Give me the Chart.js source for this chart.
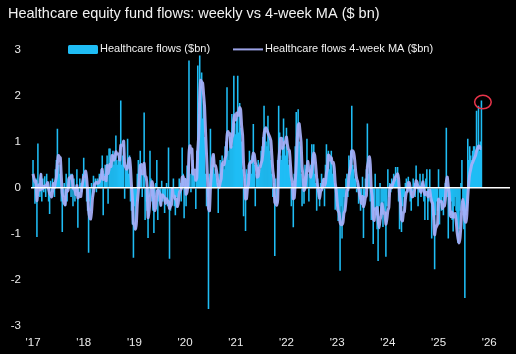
<!DOCTYPE html>
<html>
<head>
<meta charset="utf-8">
<title>Healthcare equity fund flows</title>
<script src="https://cdn.jsdelivr.net/npm/chart.js@4.4.1/dist/chart.umd.min.js"></script>
<style>
    html, body { margin: 0; padding: 0; background: #000; }
</style>
</head>
<body>
<canvas id="myChart" width="516" height="354"></canvas>
<script>
//! DATA (weekly, $bn)
const flows2017 = [0.6, 0.1, -0.35, 0.2, -1.07, 0.96, 0.1, -0.2, 0.3, -0.3, 0.2, -0.1, 0.25, -0.2, 0.3, 0.1, -0.3, -0.57, 0.15, -0.1, 0.2, 0.1, -0.2, 0.4, 0.6, 1.28, 0.5, 0.3, 0.5, -0.3, -0.96, -0.2, 0.1, -0.4, 0.3, -0.3, 0.2, 0.65, 0.3, -0.2, 0.3, -0.4, 0.2, -0.3, -0.1, 0.4, -0.87, -0.2, 0.2, 0.1, -0.1, 0.3];
const flows2018 = [0.65, 0.2, 0.3, -0.3, -0.5, -1.41, -0.3, -0.5, 0.1, -0.2, 0.26, 0.1, 0.2, -0.1, 0.2, 0.1, 0.3, 0.2, 0.4, 0.7, -0.6, 0.3, 0.5, 0.4, 0.7, -0.35, 0.85, 0.85, 0.5, 0.6, 0.8, 0.5, 0.7, 1.13, 0.6, 0.5, 0.7, 0.6, 1.89, 0.5, 0.7, 0.94, -0.24, 0.4, 0.5, 1.06, 0.3, 0.7, -0.3, -0.5, -0.8, -1.52];
const flows2019 = [-0.4, -0.9, -0.3, 0.3, 0.6, 0.2, 0.8, 0.4, -0.2, 0.3, 1.63, -0.7, -0.3, -0.5, -1.09, -0.2, 0.8, 0.2, -0.3, -0.5, -0.98, -0.2, 0.1, 0.6, -0.7, -0.3, -0.1, -0.4, 0.15, -0.3, -0.2, -0.55, -0.3, 0.1, -0.4, 0.87, -1.54, -0.5, -0.3, -0.2, 0.2, -0.4, -0.6, -0.2, -0.43, -0.1, 0.2, 0.1, -0.3, 0.87, 0.3, -0.66];
const flows2020 = [0.2, -0.4, 0.48, 0.1, 2.76, 0.3, -0.1, 0.4, 0.6, 0.3, 0.2, -0.46, 0.8, 2.65, 1.6, 2.87, 2.2, 2.5, 1.5, 1.89, 1.1, 0.3, -0.4, -0.2, -2.63, 0.3, 1.28, 0.4, 0.5, 0.7, 0.3, 0.4, 0.2, 0.1, -0.55, 0.3, 0.6, 0.4, 0.7, 0.5, 0.4, 0.9, 1.0, 2.18, 0.8, 0.6, 1.1, 1.0, 1.6, 0.9, 2.43, 1.4];
const flows2021 = [1.16, 1.5, 2.43, 1.2, 1.84, 1.3, 1.0, 0.4, -0.62, 0.2, -0.94, 0.4, 0.3, 0.5, 0.8, 0.6, 0.3, 0.7, 1.38, 0.5, -0.4, 0.3, 0.5, 0.6, 0.3, 0.4, 0.8, 0.9, 1.1, 1.78, 1.3, 1.0, 0.9, 1.56, 1.1, 0.8, 0.6, 0.3, -0.2, 0.1, -1.48, 0.2, -0.35, 0.6, 1.78, 1.2, 0.7, 0.6, 0.9, 1.5, 0.9, 0.7];
const flows2022 = [1.3, 0.8, 0.5, 0.6, 0.2, -0.4, 0.1, -0.86, 0.3, 0.9, 1.64, 1.2, 1.7, 1.0, 0.9, 0.3, -0.4, 0.2, -0.35, 0.5, 0.4, 1.06, 0.3, -0.3, 0.4, 0.5, 0.94, 0.6, 0.94, 0.3, 0.1, -0.5, 0.2, -0.2, -0.4, 0.1, 0.3, 0.1, 0.2, -0.4, 0.5, 0.94, 0.6, 0.8, 0.4, 0.6, 0.8, 0.3, 0.5, 0.1, -0.48, -0.3];
const flows2023 = [-0.5, -0.72, -0.6, -1.8, -0.4, -1.1, -0.7, -0.2, -0.5, 0.2, 0.3, -0.2, 0.7, 0.6, 0.8, 1.78, 0.5, 0.4, 0.2, 0.3, -0.1, 0.1, -0.35, -0.2, -0.5, -0.3, 0.24, -1.09, -0.2, 0.2, 0.4, 1.39, 0.3, 0.6, -0.3, -0.7, -0.4, -1.22, -0.5, 0.3, -0.6, -0.9, -1.59, -0.4, 0.1, -0.6, -0.5, -0.85, -0.3, -0.5, -1.5, -0.4];
const flows2024 = [0.4, -0.2, 0.1, -0.1, 0.2, 0.1, 0.3, 0.1, 0.45, 0.2, 0.45, -0.3, -0.9, -0.6, -0.96, -0.4, -0.2, -0.5, 0.1, 0.2, -0.1, 0.24, 0.1, -0.3, -0.5, -0.1, 0.2, 0.1, -0.2, 0.48, 0.1, -0.4, -0.1, 0.3, -0.2, 0.1, 0.3, -0.3, -0.7, 0.2, 0.4, -0.7, -0.3, 0.4, -0.2, -1.1, -0.5, -0.7, -1.77, -0.6, -0.3, -0.5];
const flows2025 = [0.4, -0.8, -0.3, -0.5, -0.2, -0.6, -0.3, 0.1, 1.3, -0.2, -1.1, -0.5, -0.6, -0.3, -0.7, -0.95, -0.4, -0.2, -0.5, -0.8, -1.2, -0.9, -0.5, 0.1, 0.6, -0.5, -0.9, -2.39, -0.6, -0.5, 1.06, 0.6, 0.9, 0.7, 0.6, 0.8, 0.9, 0.9, 0.7, 1.67, 0.9, 1.78, 0.8, 1.0, 1.89];

//* 4-week moving average line
const ma2017 = [0.3, 0.2, 0.12, 0.14, -0.28, -0.07, 0.05, -0.05, 0.29, -0.03, 0, 0.03, 0.01, 0.04, 0.06, 0.11, -0.03, -0.12, -0.16, -0.2, -0.08, 0.09, 0, 0.13, 0.23, 0.52, 0.7, 0.67, 0.65, 0.25, -0.12, -0.24, -0.34, -0.37, -0.05, -0.08, -0.05, 0.21, 0.21, 0.24, 0.26, 0, -0.03, -0.05, -0.15, 0.05, -0.22, -0.19, -0.12, -0.19, 0, 0.13];
const ma2018 = [0.24, 0.26, 0.36, 0.21, -0.08, -0.48, -0.63, -0.68, -0.53, -0.23, -0.09, 0.07, 0.09, 0.12, 0.1, 0.1, 0.13, 0.2, 0.25, 0.4, 0.18, 0.2, 0.23, 0.15, 0.48, 0.31, 0.4, 0.51, 0.46, 0.7, 0.69, 0.6, 0.65, 0.78, 0.73, 0.73, 0.73, 0.6, 0.92, 0.92, 0.92, 1.01, 0.48, 0.45, 0.4, 0.43, 0.57, 0.64, 0.44, 0.05, -0.23, -0.78];
const ma2019 = [-0.8, -0.9, -0.78, -0.33, -0.08, 0.2, 0.48, 0.5, 0.3, 0.33, 0.53, 0.26, 0.23, 0.03, -0.65, -0.52, -0.25, -0.07, 0.13, 0.05, -0.4, -0.5, -0.4, -0.12, -0.05, -0.08, -0.13, -0.38, -0.16, -0.16, -0.19, -0.23, -0.34, -0.24, -0.29, -0.3, -0.45, -0.4, -0.37, -0.03, -0.2, -0.18, -0.25, -0.25, -0.41, -0.33, -0.13, -0.06, -0.03, 0.22, 0.24, 0.05];
const ma2020 = [0.18, -0.14, -0.1, 0.1, 0.74, 0.91, 0.77, 0.84, 0.3, 0.3, 0.38, 0.16, 0.21, 0.8, 1.15, 1.98, 2.33, 2.29, 2.27, 2.02, 1.75, 1.2, 0.72, 0.2, -0.45, -0.5, 0.0, 0.3, 0.62, 0.72, 0.48, 0.48, 0.4, 0.25, 0.04, 0.01, 0.11, 0.19, 0.5, 0.55, 0.5, 0.63, 0.7, 1.12, 1.22, 1.15, 1.17, 0.88, 1.08, 1.15, 1.48, 1.58];
const ma2021 = [1.47, 1.62, 1.62, 1.57, 1.74, 1.69, 1.34, 1.14, 0.52, 0.25, -0.24, -0.24, -0.01, 0.07, 0.5, 0.55, 0.55, 0.6, 0.75, 0.72, 0.55, 0.45, 0.23, 0.25, 0.43, 0.45, 0.53, 0.6, 0.8, 1.15, 1.27, 1.3, 1.25, 1.19, 1.14, 1.09, 1.02, 0.7, 0.38, 0.2, -0.32, -0.35, -0.38, -0.26, 0.56, 0.81, 1.07, 1.07, 0.85, 0.93, 0.98, 1.0];
const ma2022 = [1.1, 0.93, 0.83, 0.8, 0.53, 0.23, 0.13, -0.24, -0.22, 0.11, 0.5, 1.01, 1.36, 1.39, 1.2, 0.98, 0.45, 0.25, -0.06, -0.01, 0.19, 0.4, 0.57, 0.37, 0.37, 0.23, 0.39, 0.61, 0.75, 0.7, 0.49, 0.21, 0.03, -0.1, -0.23, -0.08, -0.05, 0.03, 0.18, 0.05, 0.1, 0.31, 0.41, 0.71, 0.69, 0.6, 0.65, 0.53, 0.55, 0.43, 0.11, -0.05];
const ma2023 = [-0.3, -0.5, -0.55, -0.75, -0.8, -0.8, -0.75, -0.55, -0.5, -0.3, -0.05, -0.05, 0.25, 0.35, 0.48, 0.8, 0.8, 0.75, 0.6, 0.35, 0.2, 0.13, -0.01, -0.14, -0.24, -0.34, -0.19, -0.41, -0.34, -0.21, -0.17, 0.45, 0.57, 0.67, 0.5, -0.03, -0.2, -0.66, -0.71, -0.46, -0.51, -0.43, -0.7, -0.87, -0.7, -0.62, -0.35, -0.46, -0.56, -0.54, -0.79, -0.68];
const ma2024 = [-0.5, -0.43, -0.03, 0.05, 0, 0.08, 0.13, 0.18, 0.24, 0.26, 0.3, 0.2, -0.14, -0.34, -0.69, -0.72, -0.54, -0.52, -0.25, -0.1, -0.08, 0.11, 0.11, -0.02, -0.12, -0.2, -0.18, -0.08, 0, 0.15, 0.12, 0, 0.02, -0.03, -0.1, 0.03, 0.13, -0.03, -0.15, -0.13, -0.1, -0.2, -0.1, -0.05, -0.2, -0.3, -0.35, -0.63, -1.02, -0.89, -0.84, -0.79];
const ma2025 = [-0.25, -0.3, -0.3, -0.3, -0.45, -0.4, -0.4, -0.25, 0.13, 0.23, 0.03, -0.13, -0.6, -0.63, -0.53, -0.64, -0.59, -0.56, -0.7, -0.95, -1.1, -1.2, -1.1, -0.8, -0.4, -0.25, -0.4, -0.7, -0.75, -0.6, -0.2, 0.1, 0.3, 0.4, 0.5, 0.55, 0.6, 0.65, 0.7, 0.8, 0.85, 0.9, 0.9, 0.85, 0.85];

//* axis ticks
const yearTicks = [2017, 2018, 2019, 2020, 2021, 2022, 2023, 2024, 2025, 2026];
const valueTicks = [-3, -2, -1, 0, 1, 2, 3];

const flows = [].concat(flows2017, flows2018, flows2019, flows2020, flows2021, flows2022, flows2023, flows2024, flows2025);
const ma = [].concat(ma2017, ma2018, ma2019, ma2020, ma2021, ma2022, ma2023, ma2024, ma2025);
//* week i sits i/52 of a year after the first week of 2017
const weekX = flows.map((v, i) => 2017 + i / 52);

const FONT = "'Liberation Sans', Arial, sans-serif";
const BAR_COLOR = '#1fbdf5';
const MA_COLOR = 'rgba(168, 176, 250, 0.92)';
Chart.defaults.font.family = FONT;
Chart.defaults.color = '#ececec';

//! PLUGINS
//* legend drawn in the top row of the plot, like the original
const topLegend = {
    id: 'topLegend',
    afterDraw(chart) {
        const ctx = chart.ctx;
        const y = chart.chartArea.top;
        ctx.save();
        ctx.fillStyle = BAR_COLOR;
        ctx.beginPath();
        ctx.roundRect(68, y - 4.5, 30, 9, 1.5);
        ctx.fill();
        ctx.strokeStyle = MA_COLOR;
        ctx.lineWidth = 2;
        ctx.beginPath();
        ctx.moveTo(233, y);
        ctx.lineTo(263, y);
        ctx.stroke();
        ctx.fillStyle = '#f0f0f0';
        ctx.font = '11px ' + FONT;
        ctx.textBaseline = 'middle';
        ctx.fillText(data.datasets[0].label, 100, y);
        ctx.fillText(data.datasets[1].label, 265, y);
        ctx.restore();
    }
};

//* red ring round the latest week
const lastRing = {
    id: 'lastRing',
    afterDatasetsDraw(chart) {
        const i = flows.length - 1;
        const cx = chart.scales.x.getPixelForValue(weekX[i]);
        const cy = chart.scales.y.getPixelForValue(flows[i]);
        const ctx = chart.ctx;
        ctx.save();
        ctx.strokeStyle = '#e8344a';
        ctx.lineWidth = 1.5;
        ctx.beginPath();
        ctx.ellipse(cx + 1.5, cy + 1.5, 8.3, 6.7, 0, 0, Math.PI * 2);
        ctx.stroke();
        ctx.restore();
    }
};

//! CHART JS CONFIG
const data = {
    datasets: [{
        type: 'bar',
        label: 'Healthcare flows ($bn)',
        data: flows.map((v, i) => ({ x: weekX[i], y: v })),
        backgroundColor: BAR_COLOR,
        borderWidth: 0,
        barPercentage: 1.6,
        categoryPercentage: 1,
        order: 2
    },
    {
        type: 'line',
        label: 'Healthcare flows 4-week MA ($bn)',
        data: ma.map((v, i) => ({ x: weekX[i], y: v })),
        borderColor: MA_COLOR,
        borderWidth: 3,
        pointRadius: 0,
        tension: 0.2,
        order: 1
    }]
};

const config = {
    type: 'bar',
    data,
    options: {
        responsive: false,
        animation: false,
        events: [],
        layout: { padding: { left: 8, right: 6, top: 0, bottom: 0 } },
        plugins: {
            tooltip: { enabled: false },
            legend: { display: false },
            title: {
                display: true,
                text: 'Healthcare equity fund flows: weekly vs 4-week MA ($ bn)',
                align: 'start',
                color: '#f2f2f2',
                font: { size: 14.5, weight: 'normal' },
                padding: { top: 5, bottom: 27 }
            }
        },
        scales: {
            x: {
                type: 'linear',
                min: 2016.96,
                max: 2026.41,
                offset: false,
                grid: { display: false, drawTicks: false },
                border: { display: false },
                afterBuildTicks: s => { s.ticks = yearTicks.map(v => ({ value: v })); },
                afterFit: s => { s.height = 28; },
                ticks: {
                    color: '#ececec',
                    font: { size: 11.5 },
                    padding: 10,
                    maxRotation: 0,
                    autoSkip: false,
                    callback: v => "'" + String(v).slice(2)
                }
            },
            y: {
                min: -3,
                max: 3,
                afterBuildTicks: s => { s.ticks = valueTicks.map(v => ({ value: v })); },
                afterFit: s => { s.width = 23; },
                grid: {
                    color: c => (c.tick && c.tick.value === 0) ? '#ffffff' : 'rgba(0,0,0,0)',
                    lineWidth: 1.5,
                    drawTicks: false,
                    z: 1
                },
                border: { display: false },
                ticks: {
                    color: '#ececec',
                    font: { size: 11.5 },
                    padding: 10
                }
            }
        }
    },
    plugins: [topLegend, lastRing]
};

//! CREATE CHART
const myChart = new Chart(document.getElementById('myChart'), config);
</script>
</body>
</html>
